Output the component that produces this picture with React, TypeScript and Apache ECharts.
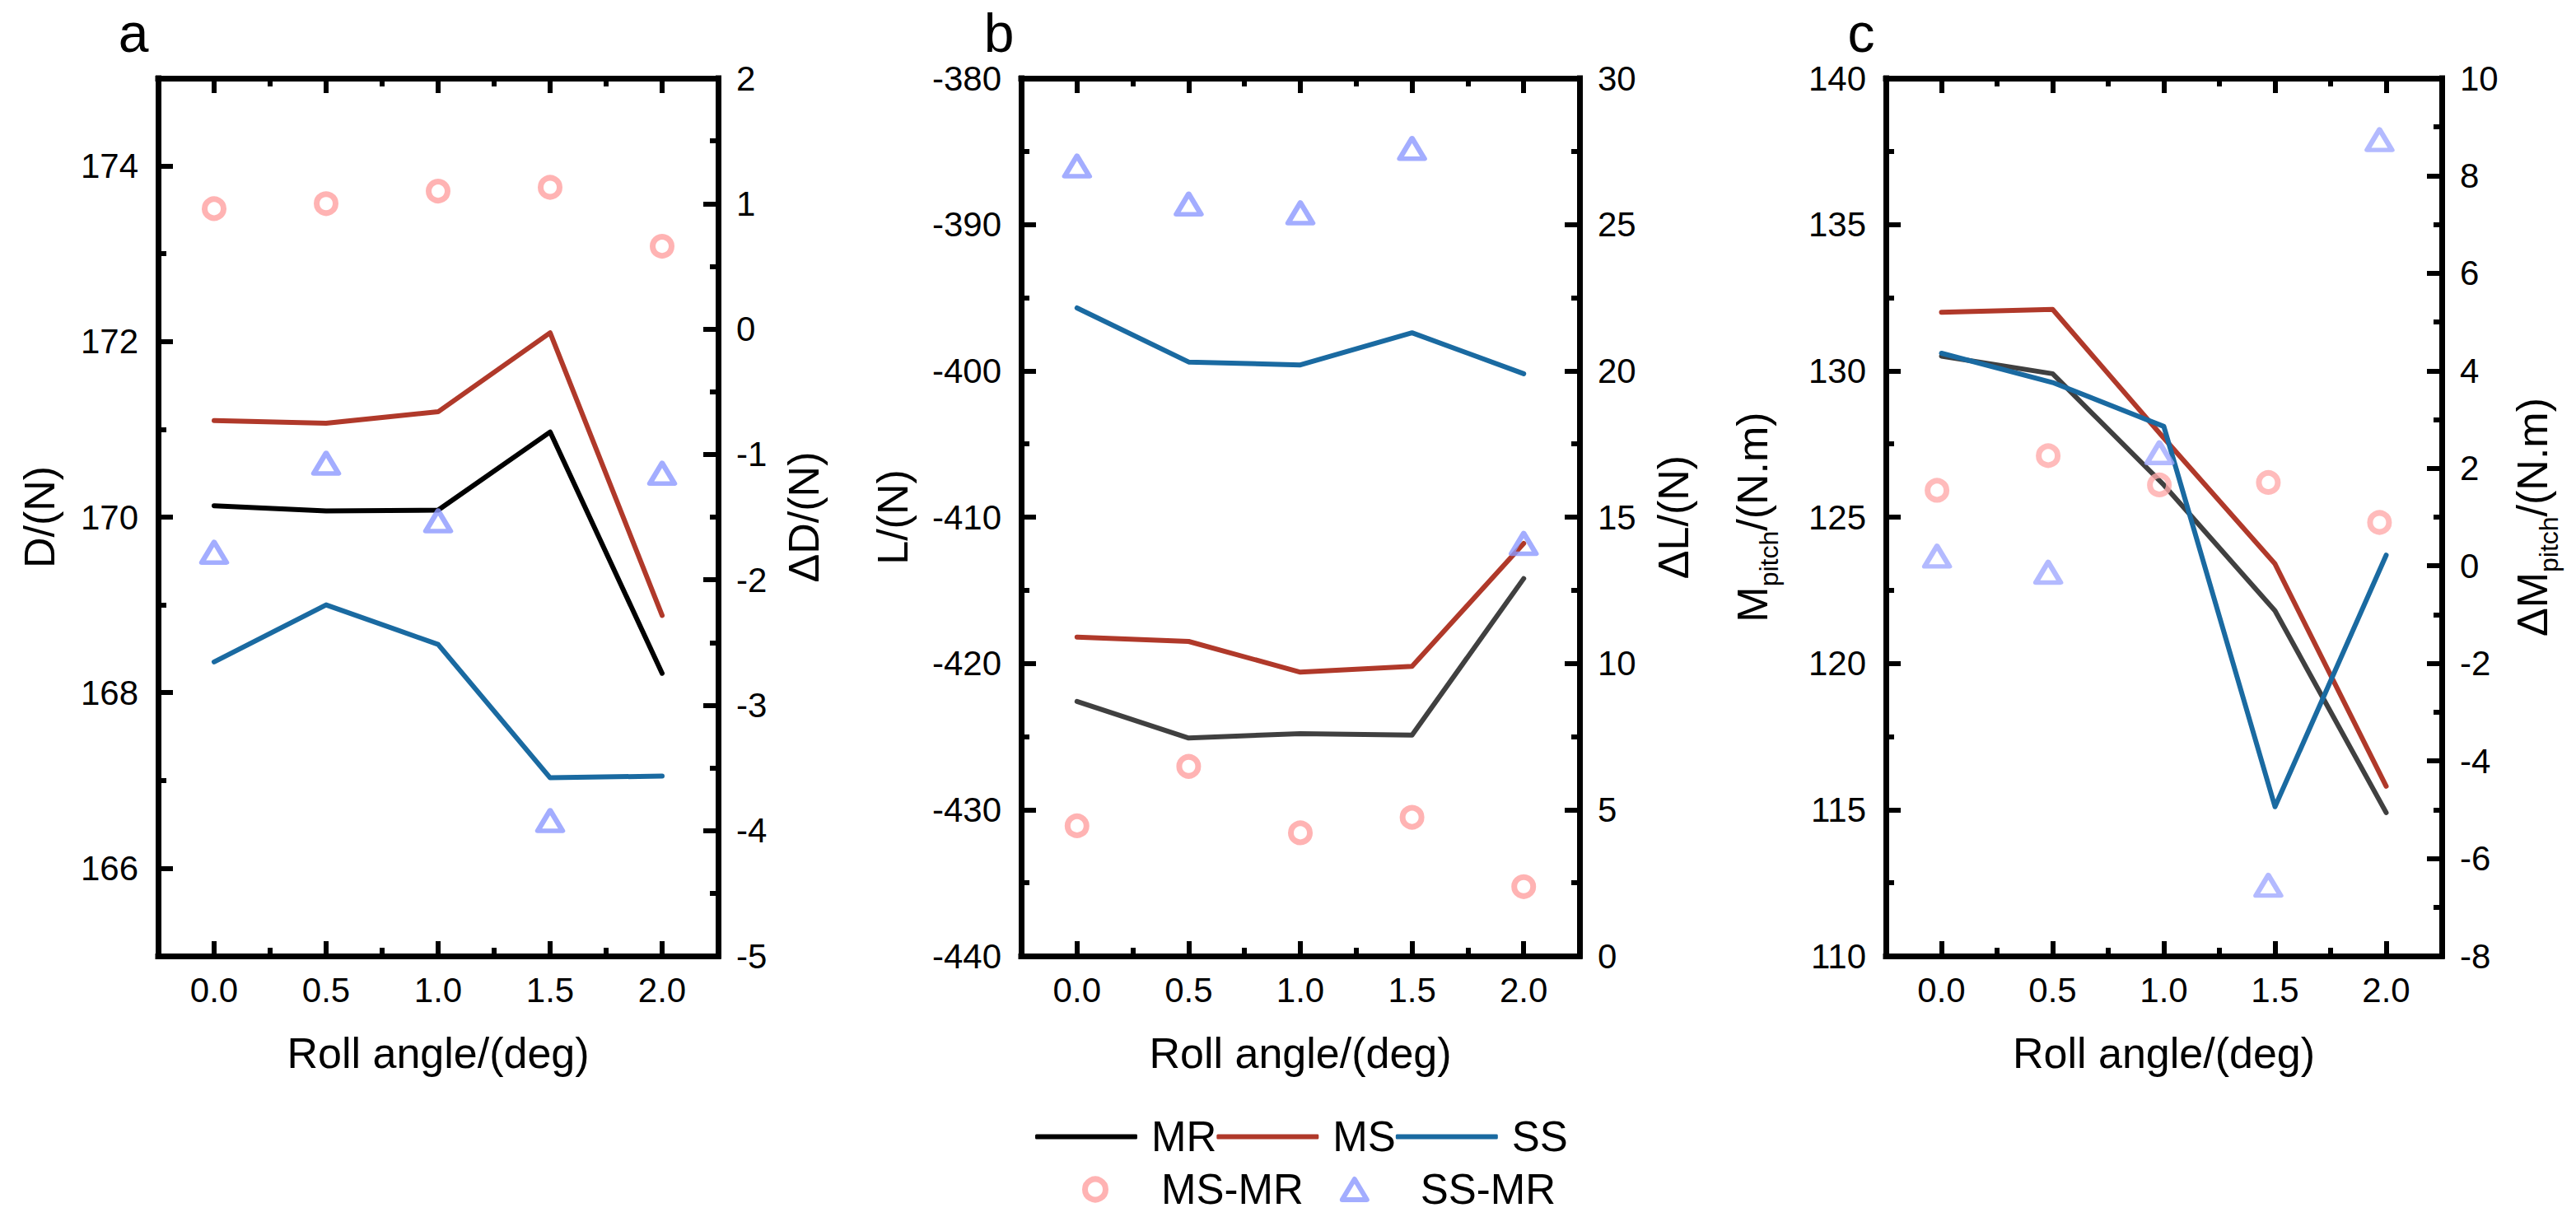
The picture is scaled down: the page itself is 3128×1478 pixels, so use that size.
import React, { useEffect, useRef } from 'react';
import * as echarts from 'echarts';

// ---- data ----
const rollAngles = [0, 0.5, 1, 1.5, 2];
const rollAnglesShiftedC = [-0.02, 0.48, 0.98, 1.47, 1.97];

const dragMR = [170.13, 170.07, 170.08, 170.97, 168.22];
const dragMS = [171.1, 171.07, 171.2, 172.1, 168.88];
const dragSS = [168.35, 169.0, 168.55, 167.03, 167.05];
const dragMSMR = [0.96, 1.0, 1.1, 1.13, 0.66];
const dragSSMR = [-1.78, -1.07, -1.53, -3.92, -1.15];

const liftMR = [-422.6, -425.1, -424.8, -424.9, -414.2];
const liftMS = [-418.2, -418.5, -420.6, -420.2, -411.8];
const liftSS = [-395.7, -399.4, -399.6, -397.4, -400.2];
const liftMSMR = [4.45, 6.48, 4.21, 4.74, 2.37];
const liftSSMR = [27.0, 25.7, 25.4, 27.6, 14.1];

const pitchMR = [130.5, 129.9, 126.1, 121.8, 114.9];
const pitchMS = [132.0, 132.1, 127.7, 123.4, 115.8];
const pitchSS = [130.6, 129.6, 128.1, 115.1, 123.7];
const pitchMSMR = [1.55, 2.26, 1.66, 1.71, 0.89];
const pitchSSMR = [0.2, -0.13, 2.32, -6.55, 8.74];

// ---- tick labels ----
const xMajorTicks = [0, 0.5, 1, 1.5, 2];
const xMinorTicks = [0.25, 0.75, 1.25, 1.75];

const dragTicks = [166, 168, 170, 172, 174];
const dragMinorTicks = [167, 169, 171, 173];
const dragDiffTicks = [-5, -4, -3, -2, -1, 0, 1, 2];
const dragDiffMinorTicks = [-4.5, -3.5, -2.5, -1.5, -0.5, 0.5, 1.5];

const liftTicks = [-440, -430, -420, -410, -400, -390, -380];
const liftMinorTicks = [-435, -425, -415, -405, -395, -385];
const liftDiffTicks = [0, 5, 10, 15, 20, 25, 30];
const liftDiffMinorTicks = [2.5, 7.5, 12.5, 17.5, 22.5, 27.5];

const pitchTicks = [110, 115, 120, 125, 130, 135, 140];
const pitchMinorTicks = [112.5, 117.5, 122.5, 127.5, 132.5, 137.5];
const pitchDiffTicks = [-8, -6, -4, -2, 0, 2, 4, 6, 8, 10];
const pitchDiffMinorTicks = [-7, -5, -3, -1, 1, 3, 5, 7, 9];

// ---- layout / style ----
const FONT = '"Liberation Sans", Arial, Helvetica, sans-serif';
const PANEL_LEFT = [192, 1240, 2290];
const PANEL_WIDTH = [680, 678, 675];
const PANEL_TOP = 95;
const PANEL_HEIGHT = 1066;

const RED = '#b0392a';
const BLUE = '#1a6aa1';
const PINK = '#ffa0a0';
const LAVENDER = '#8c98ff';

const line = (show: boolean) => ({
  show,
  onZero: false,
  lineStyle: { color: '#000', width: 7, cap: 'square' },
});

const tick = (values: number[], length: number) => ({
  show: true,
  inside: true,
  length,
  customValues: values,
  lineStyle: { color: '#000', width: 6 },
});

const label = (values: number[], margin: number, fmt?: (v: number) => string) => ({
  show: true,
  customValues: values,
  margin,
  fontSize: 42,
  fontFamily: FONT,
  color: '#000',
  formatter: fmt ?? ((v: number) => String(v)),
});

const nameStyle = {
  fontSize: 52,
  fontFamily: FONT,
  color: '#000',
  rich: {
    m: { fontSize: 52, lineHeight: 72, fontFamily: FONT, color: '#000' },
    s: { fontSize: 32, lineHeight: 32, verticalAlign: 'bottom', fontFamily: FONT, color: '#000' },
  },
};

function buildXAxes(gridIndex: number) {
  const base = { type: 'value', gridIndex, min: -0.25, max: 2.25, splitLine: { show: false } };
  return [
    {
      ...base,
      position: 'bottom',
      axisLine: line(true),
      axisTick: tick(xMajorTicks, 18),
      axisLabel: label(xMajorTicks, 20, (v) => v.toFixed(1)),
      name: 'Roll angle/(deg)',
      nameLocation: 'middle',
      nameGap: 92,
      nameTextStyle: nameStyle,
    },
    { ...base, position: 'bottom', axisLine: line(false), axisTick: tick(xMinorTicks, 10), axisLabel: { show: false } },
    { ...base, position: 'top', axisLine: line(true), axisTick: tick(xMajorTicks, 18), axisLabel: { show: false } },
    { ...base, position: 'top', axisLine: line(false), axisTick: tick(xMinorTicks, 10), axisLabel: { show: false } },
  ];
}

function buildYAxes(
  gridIndex: number,
  left: { min: number; max: number; major: number[]; minor: number[]; name: string; gap: number },
  right: { min: number; max: number; major: number[]; minor: number[]; name: string; gap: number }
) {
  const base = { type: 'value', gridIndex, splitLine: { show: false } };
  return [
    {
      ...base,
      position: 'left',
      min: left.min,
      max: left.max,
      axisLine: line(true),
      axisTick: tick(left.major, 18),
      axisLabel: label(left.major, 24),
      name: left.name,
      nameLocation: 'middle',
      nameRotate: 90,
      nameGap: left.gap,
      nameTextStyle: nameStyle,
    },
    {
      ...base,
      position: 'left',
      min: left.min,
      max: left.max,
      axisLine: line(false),
      axisTick: tick(left.minor, 10),
      axisLabel: { show: false },
    },
    {
      ...base,
      position: 'right',
      min: right.min,
      max: right.max,
      axisLine: line(true),
      axisTick: tick(right.major, 18),
      axisLabel: label(right.major, 22),
      name: right.name,
      nameLocation: 'middle',
      nameRotate: 90,
      nameGap: right.gap,
      nameTextStyle: nameStyle,
    },
    {
      ...base,
      position: 'right',
      min: right.min,
      max: right.max,
      axisLine: line(false),
      axisTick: tick(right.minor, 10),
      axisLabel: { show: false },
    },
  ];
}

const pairs = (xs: number[], ys: number[]) => xs.map((x, i) => [x, ys[i]]);

function lineSeries(name: string, p: number, ys: number[], color: string) {
  return {
    name,
    type: 'line',
    xAxisIndex: p * 4,
    yAxisIndex: p * 4,
    data: pairs(rollAngles, ys),
    symbol: 'none',
    itemStyle: { color },
    lineStyle: { color, width: 6, cap: 'round', join: 'round' },
    z: 3,
  };
}

function markerSeries(name: string, p: number, xs: number[], ys: number[], symbol: string, color: string) {
  const isCircle = symbol === 'circle';
  return {
    name,
    type: 'scatter',
    xAxisIndex: p * 4,
    yAxisIndex: p * 4 + 2,
    data: pairs(xs, ys),
    symbol,
    symbolSize: isCircle ? 23 : [30, 25],
    itemStyle: { color: 'rgba(0,0,0,0)', borderColor: color, borderWidth: isCircle ? 7 : 6, borderJoin: 'round' },
    z: 4,
  };
}

const App: React.FC = () => {
  const chartRef = useRef<HTMLDivElement>(null);

  useEffect(() => {
    if (!chartRef.current) return;
    const chart = echarts.init(chartRef.current, undefined, { renderer: 'svg' });

    const grids = PANEL_LEFT.map((left, i) => ({
      left,
      top: PANEL_TOP,
      width: PANEL_WIDTH[i],
      height: PANEL_HEIGHT,
      containLabel: false,
    }));

    const xAxes = [0, 1, 2].flatMap((g) => buildXAxes(g));
    const yAxes = [
      ...buildYAxes(
        0,
        { min: 165, max: 175, major: dragTicks, minor: dragMinorTicks, name: 'D/(N)', gap: 118 },
        { min: -5, max: 2, major: dragDiffTicks, minor: dragDiffMinorTicks, name: 'ΔD/(N)', gap: 78 }
      ),
      ...buildYAxes(
        1,
        { min: -440, max: -380, major: liftTicks, minor: liftMinorTicks, name: 'L/(N)', gap: 130 },
        { min: 0, max: 30, major: liftDiffTicks, minor: liftDiffMinorTicks, name: 'ΔL/(N)', gap: 88 }
      ),
      ...buildYAxes(
        2,
        { min: 110, max: 140, major: pitchTicks, minor: pitchMinorTicks, name: '{m|M}{s|pitch}{m|/(N.m)}', gap: 126 },
        { min: -8, max: 10, major: pitchDiffTicks, minor: pitchDiffMinorTicks, name: '{m|ΔM}{s|pitch}{m|/(N.m)}', gap: 74 }
      ),
    ];

    const series = [
      lineSeries('MR', 0, dragMR, '#000000'),
      lineSeries('MS', 0, dragMS, RED),
      lineSeries('SS', 0, dragSS, BLUE),
      markerSeries('MS-MR', 0, rollAngles, dragMSMR, 'circle', PINK),
      markerSeries('SS-MR', 0, rollAngles, dragSSMR, 'triangle', LAVENDER),

      lineSeries('MR', 1, liftMR, '#404040'),
      lineSeries('MS', 1, liftMS, RED),
      lineSeries('SS', 1, liftSS, BLUE),
      markerSeries('MS-MR', 1, rollAngles, liftMSMR, 'circle', PINK),
      markerSeries('SS-MR', 1, rollAngles, liftSSMR, 'triangle', LAVENDER),

      lineSeries('MR', 2, pitchMR, '#404040'),
      lineSeries('MS', 2, pitchMS, RED),
      lineSeries('SS', 2, pitchSS, BLUE),
      markerSeries('MS-MR', 2, rollAnglesShiftedC, pitchMSMR, 'circle', '#ffaaaa'),
      markerSeries('SS-MR', 2, rollAnglesShiftedC, pitchSSMR, 'triangle', '#a0a9ff'),
    ];

    const legendText = { fontSize: 51, fontFamily: FONT, color: '#000' };

    const option: any = {
      animation: false,
      backgroundColor: '#fff',
      grid: grids,
      xAxis: xAxes,
      yAxis: yAxes,
      series,
      legend: [
        {
          left: 1252,
          top: 1350,
          orient: 'horizontal',
          selectedMode: false,
          itemWidth: 124,
          itemHeight: 6,
          itemGap: 0,
          textStyle: { ...legendText, padding: [0, 0, 0, 12] },
          data: [
            { name: 'MR', icon: 'roundRect' },
            { name: 'MS', icon: 'roundRect' },
            { name: 'SS', icon: 'roundRect' },
          ],
        },
        {
          left: 1309,
          top: 1414,
          orient: 'horizontal',
          selectedMode: false,
          itemWidth: 30,
          itemHeight: 25,
          itemGap: 44,
          textStyle: { ...legendText, padding: [0, 0, 0, 60] },
          data: [
            {
              name: 'MS-MR',
              icon: 'circle',
              itemStyle: { color: 'rgba(0,0,0,0)', borderColor: PINK, borderWidth: 7 },
            },
            {
              name: 'SS-MR',
              icon: 'triangle',
              itemStyle: { color: 'rgba(0,0,0,0)', borderColor: LAVENDER, borderWidth: 6, borderJoin: 'round' },
            },
          ],
        },
      ],
      graphic: ['a', 'b', 'c'].map((t, i) => ({
        type: 'text',
        x: [162, 1213, 2260][i],
        y: 40,
        style: {
          text: t,
          fontSize: 66,
          fontFamily: FONT,
          fill: '#000',
          align: 'center',
          verticalAlign: 'middle',
        },
      })),
    };

    chart.setOption(option);

    const handleResize = () => {
      if (!chart.isDisposed()) chart.resize();
    };
    window.addEventListener('resize', handleResize);

    return () => {
      window.removeEventListener('resize', handleResize);
      chart.dispose();
    };
  }, []);

  return (
    <div
      ref={chartRef}
      style={{ position: 'absolute', left: 0, top: 0, width: '3128px', height: '1478px', background: '#fff' }}
    />
  );
};

export default App;
